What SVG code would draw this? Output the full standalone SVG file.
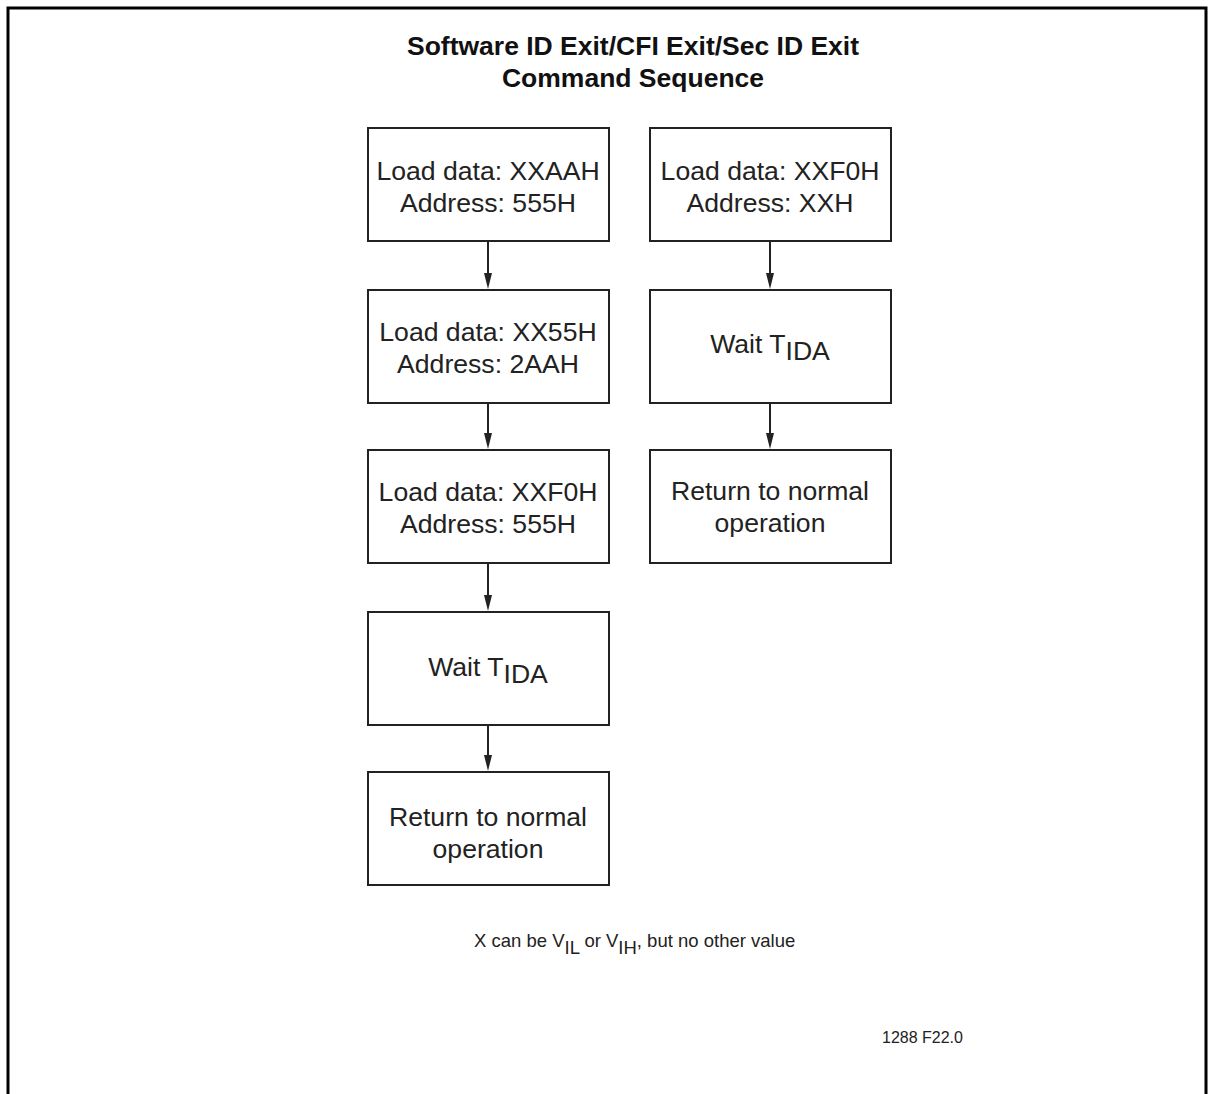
<svg xmlns="http://www.w3.org/2000/svg" width="1213" height="1094" viewBox="0 0 1213 1094">
<style>
.box{fill:#fff;stroke:#222;stroke-width:2}
.t{font-family:"Liberation Sans",Arial,sans-serif;font-size:26.6px;fill:#222;text-anchor:middle}
.title{font-family:"Liberation Sans",Arial,sans-serif;font-size:26.5px;font-weight:bold;fill:#111;text-anchor:middle}
.note{font-family:"Liberation Sans",Arial,sans-serif;font-size:18.5px;fill:#222}
.ln{stroke:#222;stroke-width:2}
.ah{fill:#222}
</style>
<rect width="1213" height="1094" fill="#fff"/>
<path d="M8,1094 V8 H1206 V1094" fill="none" stroke="#000" stroke-width="3"/>
<text class="title" x="633" y="55">Software ID Exit/CFI Exit/Sec ID Exit</text>
<text class="title" x="633" y="87">Command Sequence</text>
<g id="connectors">
<line class="ln" x1="488" y1="242" x2="488" y2="280"/>
<path class="ah" d="M484,273 L492,273 L488,289 Z"/>
<line class="ln" x1="488" y1="404" x2="488" y2="440"/>
<path class="ah" d="M484,433 L492,433 L488,449 Z"/>
<line class="ln" x1="488" y1="564" x2="488" y2="602"/>
<path class="ah" d="M484,595 L492,595 L488,611 Z"/>
<line class="ln" x1="488" y1="726" x2="488" y2="762"/>
<path class="ah" d="M484,755 L492,755 L488,771 Z"/>
<line class="ln" x1="770" y1="242" x2="770" y2="280"/>
<path class="ah" d="M766,273 L774,273 L770,289 Z"/>
<line class="ln" x1="770" y1="404" x2="770" y2="440"/>
<path class="ah" d="M766,433 L774,433 L770,449 Z"/>
</g>
<g id="n1"><rect class="box" x="368" y="128" width="241" height="113"/>
<text class="t" x="488" y="180">Load data: XXAAH</text><text class="t" x="488" y="212">Address: 555H</text></g>
<g id="n2"><rect class="box" x="368" y="290" width="241" height="113"/>
<text class="t" x="488" y="341">Load data: XX55H</text><text class="t" x="488" y="373">Address: 2AAH</text></g>
<g id="n3"><rect class="box" x="368" y="450" width="241" height="113"/>
<text class="t" x="488" y="501">Load data: XXF0H</text><text class="t" x="488" y="533">Address: 555H</text></g>
<g id="n4"><rect class="box" x="368" y="612" width="241" height="113"/>
<text class="t" x="488" y="676">Wait T<tspan dy="7">IDA</tspan></text></g>
<g id="n5"><rect class="box" x="368" y="772" width="241" height="113"/>
<text class="t" x="488" y="826">Return to normal</text><text class="t" x="488" y="858">operation</text></g>
<g id="n6"><rect class="box" x="650" y="128" width="241" height="113"/>
<text class="t" x="770" y="180">Load data: XXF0H</text><text class="t" x="770" y="212">Address: XXH</text></g>
<g id="n7"><rect class="box" x="650" y="290" width="241" height="113"/>
<text class="t" x="770" y="353">Wait T<tspan dy="7">IDA</tspan></text></g>
<g id="n8"><rect class="box" x="650" y="450" width="241" height="113"/>
<text class="t" x="770" y="500">Return to normal</text><text class="t" x="770" y="532">operation</text></g>
<text class="note" x="474" y="947">X can be V<tspan dy="7">IL</tspan><tspan dy="-7"> or V</tspan><tspan dy="7">IH</tspan><tspan dy="-7">, but no other value</tspan></text>
<text class="note" x="882" y="1043" style="font-size:16px">1288 F22.0</text>
</svg>
